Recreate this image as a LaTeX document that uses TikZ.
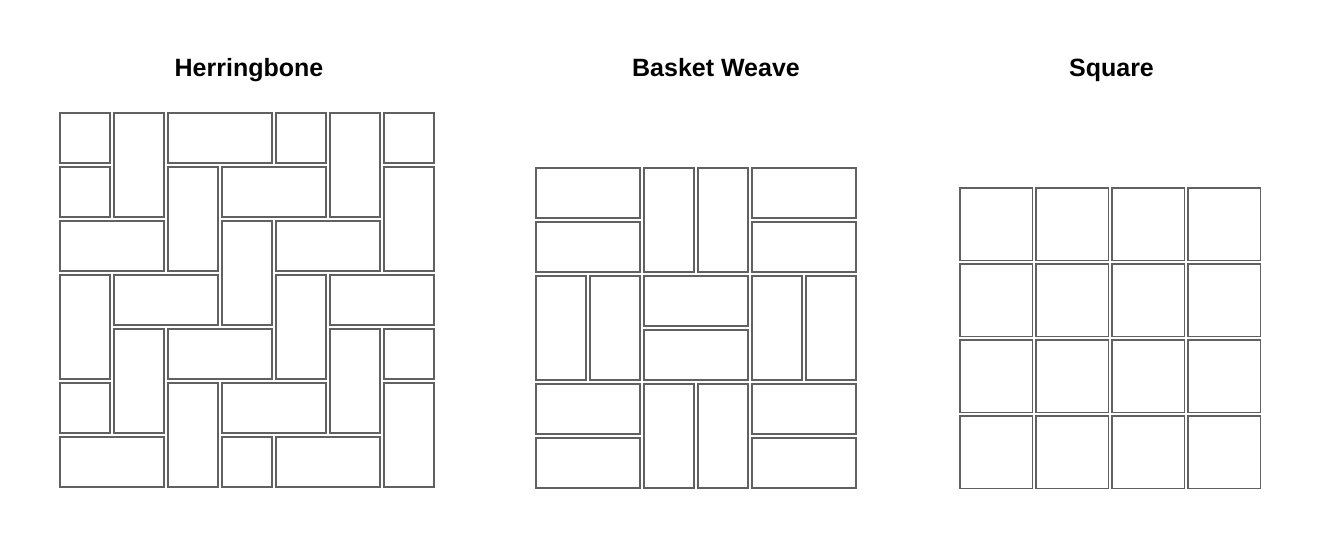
\documentclass[tikz,border=0pt]{standalone}
\usepackage{fontspec}
\setmainfont{Liberation Sans}
\usetikzlibrary{positioning}

\tikzset{
  tile/.style={draw=black!62, line width=1.3pt, fill=white},
  title/.style={font=\fontsize{25}{30}\selectfont\bfseries, anchor=base, inner sep=0pt}
}

\begin{document}
\begin{tikzpicture}[x=1pt,y=-1pt]

  % Page
  \useasboundingbox[fill=white] (0,0) rectangle (1321,549);

  % Titles
  \node[title] (herrTitle) at (249,76) {Herringbone};
  \node[title] (basketTitle) at (716,76) {Basket Weave};
  \node[title] (squareTitle) at (1111.5,76) {Square};

  % Herringbone: col/row/width/height in cells of 54
  \begin{scope}[shift={(60,113)}]
    \foreach \c/\r/\w/\h in {0/0/1/1, 1/0/1/2, 2/0/2/1, 4/0/1/1, 5/0/1/2, 6/0/1/1,
                             0/1/1/1, 2/1/1/2, 3/1/2/1, 6/1/1/2,
                             0/2/2/1, 3/2/1/2, 4/2/2/1,
                             0/3/1/2, 1/3/2/1, 4/3/1/2, 5/3/2/1,
                             1/4/1/2, 2/4/2/1, 5/4/1/2, 6/4/1/1,
                             0/5/1/1, 2/5/1/2, 3/5/2/1, 6/5/1/2,
                             0/6/2/1, 3/6/1/1, 4/6/2/1}
      \draw[tile] (\c*54,\r*54) rectangle ({(\c+\w)*54-4},{(\r+\h)*54-4});
  \end{scope}

  % Basket weave: 3x3 blocks of two bricks
  \begin{scope}[shift={(536,168)}]
    \foreach \c/\r/\w/\h in {0/0/2/1, 0/1/2/1, 2/0/1/2, 3/0/1/2, 4/0/2/1, 4/1/2/1,
                             0/2/1/2, 1/2/1/2, 2/2/2/1, 2/3/2/1, 4/2/1/2, 5/2/1/2,
                             0/4/2/1, 0/5/2/1, 2/4/1/2, 3/4/1/2, 4/4/2/1, 4/5/2/1}
      \draw[tile] (\c*54,\r*54) rectangle ({(\c+\w)*54-4},{(\r+\h)*54-4});
  \end{scope}

  % Square: 4x4 grid
  \begin{scope}[shift={(960,188)}]
    \foreach \c in {0,...,3}
      \foreach \r in {0,...,3}
        \draw[tile] (\c*76,\r*76) rectangle ({(\c+1)*76-3.5},{(\r+1)*76-3.5});
  \end{scope}

\end{tikzpicture}
\end{document}
